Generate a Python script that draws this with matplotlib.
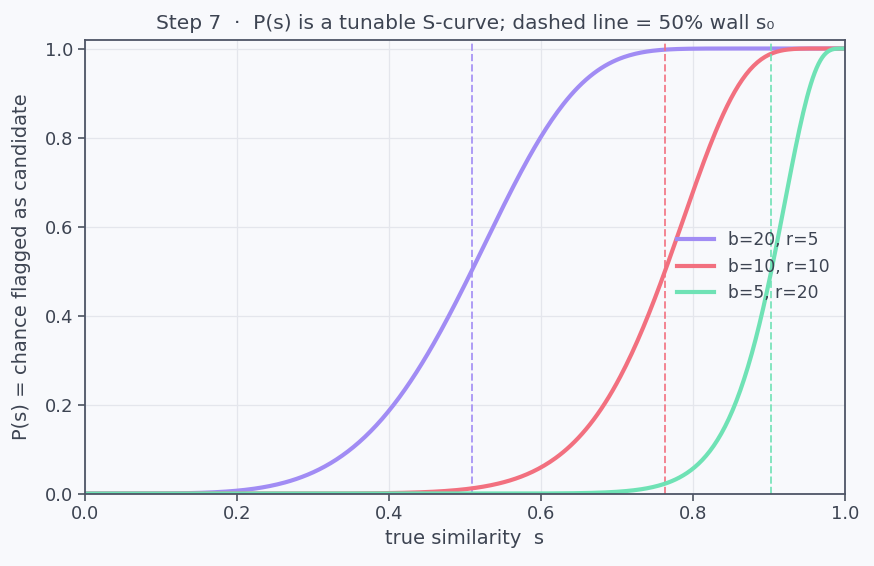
import numpy as np
import matplotlib.pyplot as plt

# banding settings shown in the legend
bands = [20, 10, 5]
rows = [5, 10, 20]
colors = ['#a18cf4', '#f2707f', '#6fe2b5']

BG = '#f8f9fc'
INK = '#3d4452'


def p_candidate(s, b, r):
    """Chance a pair with similarity s lands in at least one shared bucket."""
    return 1 - (1 - s ** r) ** b


def wall(b, r):
    """Similarity where P(s) = 0.5."""
    return (1 - 0.5 ** (1 / b)) ** (1 / r)


s = np.linspace(0, 1, 400)

fig, ax = plt.subplots(figsize=(8.74, 5.66), dpi=100)
fig.patch.set_facecolor(BG)
ax.set_facecolor(BG)

for b, r, c in zip(bands, rows, colors):
    ax.plot(s, p_candidate(s, b, r), color=c, lw=3, label=f'b={b}, r={r}')
    ax.axvline(wall(b, r), color=c, ls='--', lw=1.4, alpha=0.85)

ax.set_xlim(0, 1)
ax.set_ylim(0, 1.02)
ax.grid(True, color='#e4e6ec', lw=0.9)
ax.set_axisbelow(True)

for sp in ax.spines.values():
    sp.set_color('#4e5566')
    sp.set_linewidth(1.3)
ax.tick_params(colors=INK, labelsize=13, length=5, width=1.1)

ax.set_xlabel('true similarity  s', color=INK, fontsize=14)
ax.set_ylabel('P(s) = chance flagged as candidate', color=INK, fontsize=14,
              labelpad=10)
ax.set_title('Step 7  ·  P(s) is a tunable S-curve; dashed line = 50% wall s₀',
             color=INK, fontsize=14.5, pad=8)

leg = ax.legend(loc='center right', bbox_to_anchor=(1.0, 0.50), frameon=False,
                fontsize=12.3, handlelength=2.2)
for t in leg.get_texts():
    t.set_color(INK)

fig.subplots_adjust(left=0.097, right=0.967, top=0.93, bottom=0.128)
plt.savefig('out.png', facecolor=BG)
